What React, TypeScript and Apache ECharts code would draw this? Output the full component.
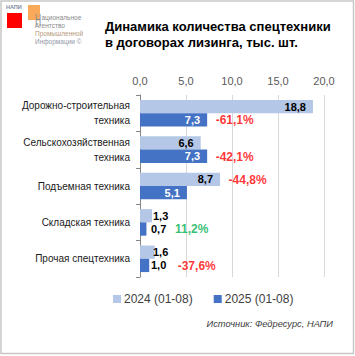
import React, { useEffect, useRef } from "react";
import * as echarts from "echarts";

const categories = [
  "Дорожно-строительная\nтехника",
  "Сельскохозяйственная\nтехника",
  "Подъемная техника",
  "Складская техника",
  "Прочая спецтехника",
];
const series2024 = [18.8, 6.6, 8.7, 1.3, 1.6];
const series2025 = [7.3, 7.3, 5.1, 0.7, 1.0];
const pctLabels = ["-61,1%", "-42,1%", "-44,8%", "11,2%", "-37,6%"];
const pctColors = ["#ff0000", "#ff0000", "#ff0000", "#00b050", "#ff0000"];
// which bar the change label sits next to: 0 = 2024 bar, 1 = 2025 bar
const pctAt = [1, 1, 0, 1, 1];
const xTicks = [0, 5, 10, 15, 20];

const fmt = (v: number) => v.toFixed(1).replace(".", ",");
const FONT = "Liberation Sans, Arial, sans-serif";

export default function App() {
  const ref = useRef<HTMLDivElement>(null);
  useEffect(() => {
    document.body.style.margin = "0";
    const chart = echarts.init(ref.current!, null, { renderer: "svg" });
    const small = (v: number) => v < 3;
    chart.setOption({
      animation: false,
      textStyle: { fontFamily: FONT },
      grid: { left: 140, right: 31, top: 95, bottom: 79, containLabel: false },
      xAxis: {
        type: "value",
        position: "top",
        min: xTicks[0],
        max: xTicks[xTicks.length - 1],
        interval: 5,
        axisLine: { show: false },
        axisTick: { show: false },
        axisLabel: { formatter: (v: number) => fmt(v), color: "#595959", fontSize: 11, margin: 9 },
        splitLine: { lineStyle: { color: "#d9d9d9", width: 1 } },
      },
      yAxis: {
        type: "category",
        inverse: true,
        data: categories,
        axisLine: { show: true, lineStyle: { color: "#868686", width: 1 } },
        axisTick: { show: true, length: 4, lineStyle: { color: "#868686" } },
        axisLabel: { color: "#1a1a1a", fontSize: 10, margin: 10, lineHeight: 15, align: "right" },
      },
      legend: {
        left: 113,
        top: 293,
        padding: 0,
        itemWidth: 8,
        itemHeight: 8,
        itemGap: 21,
        icon: "rect",
        textStyle: { color: "#404040", fontSize: 12, fontFamily: FONT, padding: [0, 0, 0, -2] },
        data: ["2024 (01-08)", "2025 (01-08)"],
      },
      series: [
        {
          name: "2024 (01-08)",
          type: "bar",
          barGap: "0%",
          barCategoryGap: "27%",
          itemStyle: { color: "#b4c7e7" },
          data: series2024.map((v) => ({
            value: v,
            label: small(v)
              ? { position: "insideLeft", offset: [6, 0] }
              : { position: "insideRight" },
          })),
          label: {
            show: true,
            distance: 7,
            formatter: (p: any) => fmt(p.value),
            color: "#000",
            fontWeight: "bold",
            fontSize: 11,
          },
        },
        {
          name: "2025 (01-08)",
          type: "bar",
          itemStyle: { color: "#4472c4" },
          data: series2025.map((v) => ({
            value: v,
            label: small(v)
              ? { position: "insideLeft", offset: [4, 0], color: "#000" }
              : { position: "insideRight", color: "#fff" },
          })),
          label: {
            show: true,
            distance: 7,
            formatter: (p: any) => fmt(p.value),
            fontWeight: "bold",
            fontSize: 11,
          },
        },
        {
          name: "pct",
          type: "scatter",
          symbolSize: 1,
          itemStyle: { color: "rgba(0,0,0,0)" },
          silent: true,
          data: pctLabels.map((t, i) => {
            const v = pctAt[i] === 0 ? series2024[i] : series2025[i];
            const extra = v < 3 ? 20 : 0;
            return {
              value: [v, categories[i]],
              label: {
                show: true,
                position: "right",
                distance: 8 + extra,
                offset: [0, pctAt[i] === 0 ? -6 : 7],
                formatter: t,
                color: pctColors[i],
                fontWeight: "bold",
                fontSize: 12,
              },
            };
          }),
        },
      ],
      graphic: [
        {
          type: "rect",
          shape: { x: 1, y: 1, width: 352.5, height: 352.5 },
          style: { fill: "none", stroke: "#c8c8c8", lineWidth: 1.5 },
          silent: true,
        },
        {
          type: "text",
          x: 105,
          y: 18,
          style: {
            text: "Динамика количества спецтехники\nв договорах лизинга, тыс. шт.",
            font: "bold 13px " + FONT,
            fill: "#000",
            lineHeight: 16,
          },
        },
        { type: "rect", shape: { x: 7, y: 13, width: 15, height: 15 }, style: { fill: "#ff0000" } },
        { type: "rect", shape: { x: 28, y: 5, width: 12, height: 15 }, style: { fill: "#f7a048", opacity: 0.9 } },
        { type: "text", x: 6, y: 4, style: { text: "НАПИ", font: "bold 5.5px " + FONT, fill: "#7f8aa0" } },
        { type: "text", x: 35, y: 12, scaleX: 0.5, style: { text: "Н", font: "17px " + FONT, fill: "#8a8a8a" } },
        { type: "text", x: 41.5, y: 14, style: { text: "ациональное", font: "6.5px " + FONT, fill: "#8a8a8a" } },
        { type: "text", x: 35, y: 22, style: { text: "Агентство", font: "6.5px " + FONT, fill: "#8a8a8a" } },
        { type: "text", x: 35, y: 30, style: { text: "Промышленной", font: "6.5px " + FONT, fill: "#b79a7c" } },
        { type: "text", x: 35, y: 38, style: { text: "Информации ©", font: "6.5px " + FONT, fill: "#8f98a8" } },
        {
          type: "text",
          right: 22,
          top: 319,
          style: {
            text: "Источник: Федресурс, НАПИ",
            font: "italic 9.3px " + FONT,
            fill: "#404040",
          },
        },
      ],
    });
    return () => chart.dispose();
  }, []);
  return <div ref={ref} style={{ width: 355, height: 356 }} />;
}
